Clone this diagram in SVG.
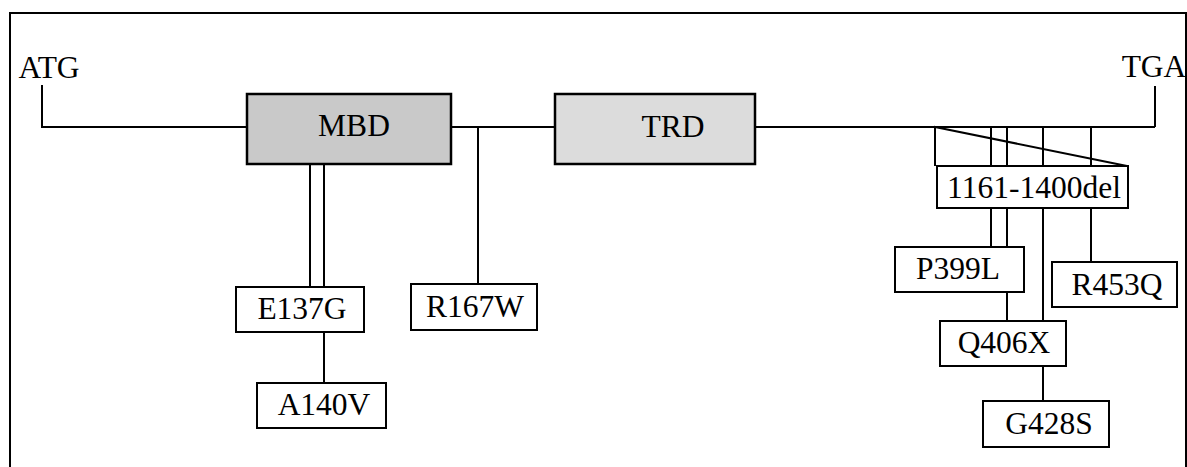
<svg xmlns="http://www.w3.org/2000/svg" width="1187" height="467" viewBox="0 0 1187 467">
<style>
.ln{stroke:#000;stroke-width:2;fill:none}
.box{fill:#fff;stroke:#000;stroke-width:2}
.dom{stroke:#000;stroke-width:2.5}
text{font-family:"Liberation Serif","Times New Roman",serif;font-size:31.5px;fill:#000;text-anchor:middle}
</style>
<rect width="1187" height="467" fill="#fff"/>
<g id="frame" class="ln">
<polyline points="10,467 10,13 1186,13 1186,467"/>
</g>
<g id="connectors" class="ln">
<polyline points="42,85 42,127 247,127"/>
<line x1="451" y1="127" x2="555" y2="127"/>
<line x1="755" y1="127" x2="1155" y2="127"/>
<line x1="1155" y1="127" x2="1155" y2="86"/>
<line x1="478" y1="127" x2="478" y2="284"/>
<line x1="310" y1="164" x2="310" y2="287"/>
<line x1="324" y1="164" x2="324" y2="287"/>
<line x1="324" y1="332" x2="324" y2="383"/>
<polyline points="935,166 935,127 1127,166"/>
<line x1="991" y1="127" x2="991" y2="247"/>
<line x1="1007" y1="127" x2="1007" y2="247"/>
<line x1="1007" y1="292" x2="1007" y2="321"/>
<line x1="1043" y1="127" x2="1043" y2="321"/>
<line x1="1043" y1="366" x2="1043" y2="401"/>
<line x1="1091" y1="127" x2="1091" y2="262"/>
</g>
<g id="ATG"><text x="49" y="78" font-size="27">ATG</text></g>
<g id="TGA"><text x="1154" y="77" font-size="27">TGA</text></g>
<g id="MBD"><rect class="dom" x="247" y="94" width="204" height="70" fill="#c9c9c9"/><text x="354" y="136" font-size="34">MBD</text></g>
<g id="TRD"><rect class="dom" x="555" y="94" width="200" height="70" fill="#dcdcdc"/><text x="673" y="137" font-size="34">TRD</text></g>
<g id="del"><rect class="box" x="937" y="166" width="191" height="42"/><text x="1034" y="198">1161-1400del</text></g>
<g id="E137G"><rect class="box" x="236" y="287" width="128" height="45"/><text x="302" y="319">E137G</text></g>
<g id="A140V"><rect class="box" x="257" y="383" width="129" height="45"/><text x="324" y="415">A140V</text></g>
<g id="R167W"><rect class="box" x="411" y="284" width="126" height="46"/><text x="475" y="317">R167W</text></g>
<g id="P399L"><rect class="box" x="895" y="247" width="129" height="45"/><text x="958" y="279">P399L</text></g>
<g id="R453Q"><rect class="box" x="1052" y="262" width="125" height="45"/><text x="1117" y="295">R453Q</text></g>
<g id="Q406X"><rect class="box" x="940" y="321" width="126" height="45"/><text x="1004" y="353">Q406X</text></g>
<g id="G428S"><rect class="box" x="983" y="401" width="126" height="46"/><text x="1049" y="434">G428S</text></g>
</svg>
